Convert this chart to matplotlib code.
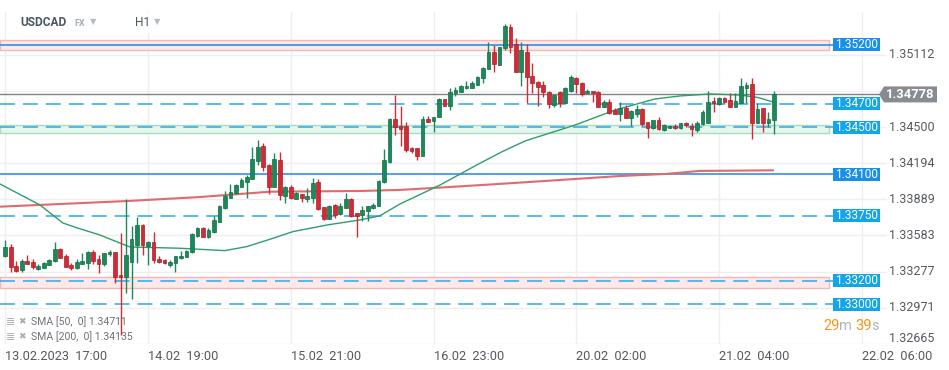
import matplotlib
matplotlib.use('Agg')
import matplotlib.pyplot as plt
import numpy as np
from matplotlib.patches import Rectangle, Polygon

plt.rcParams['font.family'] = ['Roboto', 'DejaVu Sans']

# ---------------- data ----------------
opens = [1.33412, 1.33483, 1.33325, 1.33289, 1.33367, 1.33359, 1.33302, 1.33311, 1.33336, 1.33365,
         1.33466, 1.33410, 1.33331, 1.33311, 1.33345, 1.33353, 1.33444, 1.33384, 1.33339, 1.33424,
         1.33444, 1.33249, 1.33234, 1.33359, 1.33503, 1.33672, 1.33497, 1.33526, 1.33384, 1.33376,
         1.33333, 1.33348, 1.33390, 1.33399, 1.33441, 1.33582, 1.33649, 1.33573, 1.33616, 1.33700,
         1.33814, 1.33904, 1.33941, 1.33997, 1.34039, 1.34062, 1.34214, 1.34344, 1.34180, 1.33997,
         1.34223, 1.33920, 1.33997, 1.33893, 1.33932, 1.33893, 1.33904, 1.34034, 1.33822, 1.33723,
         1.33842, 1.33763, 1.33819, 1.33893, 1.33771, 1.33757, 1.33793, 1.33814, 1.33833, 1.34034,
         1.34208, 1.34570, 1.34511, 1.34511, 1.34327, 1.34322, 1.34259, 1.34568, 1.34556, 1.34590,
         1.34739, 1.34683, 1.34788, 1.34801, 1.34830, 1.34835, 1.34858, 1.34915, 1.34991, 1.35135,
         1.35027, 1.35169, 1.35352, 1.35203, 1.34971, 1.35138, 1.34934, 1.34881, 1.34858, 1.34801,
         1.34689, 1.34801, 1.34703, 1.34807, 1.34915, 1.34872, 1.34788, 1.34807, 1.34801, 1.34674,
         1.34717, 1.34646, 1.34610, 1.34661, 1.34581, 1.34610, 1.34655, 1.34542, 1.34491, 1.34562,
         1.34477, 1.34496, 1.34513, 1.34491, 1.34534, 1.34511, 1.34477, 1.34525, 1.34534, 1.34725,
         1.34697, 1.34745, 1.34731, 1.34674, 1.34708, 1.34835, 1.34867, 1.34534, 1.34661, 1.34534,
         1.34562]
highs = [1.33545, 1.33511, 1.33367, 1.33382, 1.33416, 1.33387, 1.33342, 1.33361, 1.33384, 1.33531,
         1.33477, 1.33424, 1.33348, 1.33382, 1.33433, 1.33455, 1.33461, 1.33416, 1.33438, 1.33461,
         1.33444, 1.33607, 1.33890, 1.33664, 1.33743, 1.33681, 1.33537, 1.33616, 1.33410, 1.33384,
         1.33376, 1.33410, 1.33455, 1.33461, 1.33600, 1.33653, 1.33658, 1.33649, 1.33749, 1.33840,
         1.33963, 1.34017, 1.34015, 1.34068, 1.34096, 1.34336, 1.34392, 1.34369, 1.34189, 1.34285,
         1.34293, 1.34003, 1.34011, 1.33954, 1.33935, 1.33983, 1.34068, 1.34062, 1.33825, 1.33840,
         1.33846, 1.33856, 1.33941, 1.33897, 1.33774, 1.33833, 1.33837, 1.33861, 1.34050, 1.34316,
         1.34575, 1.34773, 1.34683, 1.34542, 1.34329, 1.34325, 1.34598, 1.34598, 1.34587, 1.34745,
         1.34742, 1.34830, 1.34844, 1.34854, 1.34892, 1.34892, 1.34937, 1.35013, 1.35225, 1.35197,
         1.35180, 1.35375, 1.35375, 1.35254, 1.35225, 1.35205, 1.35042, 1.34895, 1.34895, 1.34810,
         1.34777, 1.34807, 1.34844, 1.34943, 1.34923, 1.34886, 1.34822, 1.34810, 1.34805, 1.34731,
         1.34737, 1.34661, 1.34712, 1.34689, 1.34646, 1.34689, 1.34659, 1.34547, 1.34565, 1.34590,
         1.34528, 1.34516, 1.34528, 1.34537, 1.34547, 1.34534, 1.34553, 1.34646, 1.34807, 1.34759,
         1.34759, 1.34754, 1.34793, 1.34788, 1.34915, 1.34886, 1.34915, 1.34703, 1.34663, 1.34632,
         1.34807]
lows = [1.33404, 1.33272, 1.33277, 1.33272, 1.33342, 1.33297, 1.33291, 1.33306, 1.33333, 1.33359,
        1.33390, 1.33317, 1.33291, 1.33302, 1.33339, 1.33297, 1.33342, 1.33268, 1.33325, 1.33412,
        1.33178, 1.32741, 1.33094, 1.33046, 1.33350, 1.33418, 1.33333, 1.33353, 1.33348, 1.33342,
        1.33319, 1.33277, 1.33384, 1.33397, 1.33436, 1.33568, 1.33568, 1.33560, 1.33607, 1.33695,
        1.33808, 1.33898, 1.33935, 1.33992, 1.33898, 1.34058, 1.34180, 1.34132, 1.33932, 1.33995,
        1.33884, 1.33861, 1.33893, 1.33888, 1.33865, 1.33865, 1.33856, 1.33799, 1.33715, 1.33720,
        1.33729, 1.33757, 1.33814, 1.33743, 1.33568, 1.33709, 1.33709, 1.33805, 1.33830, 1.34028,
        1.34200, 1.34435, 1.34344, 1.34288, 1.34280, 1.34223, 1.34257, 1.34545, 1.34457, 1.34585,
        1.34680, 1.34646, 1.34767, 1.34799, 1.34826, 1.34833, 1.34854, 1.34872, 1.34989, 1.34971,
        1.35025, 1.35154, 1.35127, 1.34964, 1.34852, 1.34703, 1.34788, 1.34683, 1.34754, 1.34666,
        1.34669, 1.34669, 1.34697, 1.34801, 1.34788, 1.34765, 1.34786, 1.34717, 1.34672, 1.34672,
        1.34612, 1.34610, 1.34556, 1.34576, 1.34511, 1.34590, 1.34513, 1.34407, 1.34488, 1.34477,
        1.34471, 1.34494, 1.34485, 1.34488, 1.34505, 1.34429, 1.34463, 1.34523, 1.34532, 1.34632,
        1.34689, 1.34703, 1.34672, 1.34672, 1.34706, 1.34703, 1.34401, 1.34532, 1.34463, 1.34505,
        1.34441]
closes = [1.33483, 1.33314, 1.33285, 1.33367, 1.33345, 1.33314, 1.33322, 1.33350, 1.33373, 1.33466,
          1.33395, 1.33319, 1.33308, 1.33359, 1.33367, 1.33444, 1.33370, 1.33342, 1.33433, 1.33444,
          1.33234, 1.33234, 1.33416, 1.33554, 1.33672, 1.33503, 1.33526, 1.33376, 1.33356, 1.33348,
          1.33356, 1.33410, 1.33410, 1.33455, 1.33594, 1.33644, 1.33573, 1.33630, 1.33715, 1.33833,
          1.33920, 1.33949, 1.34011, 1.34053, 1.34081, 1.34231, 1.34330, 1.34166, 1.33997, 1.34231,
          1.33926, 1.33997, 1.33898, 1.33941, 1.33904, 1.33918, 1.34025, 1.33805, 1.33723, 1.33833,
          1.33757, 1.33833, 1.33893, 1.33751, 1.33751, 1.33799, 1.33833, 1.33842, 1.34045, 1.34223,
          1.34570, 1.34505, 1.34483, 1.34308, 1.34302, 1.34259, 1.34570, 1.34547, 1.34584, 1.34739,
          1.34683, 1.34796, 1.34816, 1.34850, 1.34850, 1.34878, 1.34923, 1.35000, 1.35135, 1.35033,
          1.35177, 1.35358, 1.35182, 1.34966, 1.35154, 1.34923, 1.34872, 1.34844, 1.34796, 1.34697,
          1.34773, 1.34703, 1.34830, 1.34923, 1.34864, 1.34779, 1.34807, 1.34788, 1.34674, 1.34717,
          1.34618, 1.34612, 1.34661, 1.34581, 1.34638, 1.34655, 1.34528, 1.34491, 1.34562, 1.34485,
          1.34519, 1.34513, 1.34491, 1.34534, 1.34519, 1.34483, 1.34539, 1.34632, 1.34717, 1.34703,
          1.34745, 1.34717, 1.34674, 1.34723, 1.34850, 1.34858, 1.34534, 1.34655, 1.34534, 1.34570,
          1.34778]

sma50_idx = [-1, 6.3, 10.5, 13.1, 17.2, 20.4, 22.7, 31.8, 40, 44, 48.2, 52.4, 58.6, 64.6, 68.2,
             71.9, 79.2, 86.1, 90.5, 94.7, 103.8, 111.1, 118.3, 122.9, 128.4, 133.8, 137.1, 140]
sma50_val = [1.34020, 1.33842, 1.33689, 1.33647, 1.33588, 1.33528, 1.33486, 1.33475, 1.33455,
             1.33489, 1.33551, 1.33616, 1.33672, 1.33715, 1.33749, 1.33850, 1.34011, 1.34186,
             1.34293, 1.34384, 1.34519, 1.34646, 1.34739, 1.34765, 1.34782, 1.34773, 1.34752, 1.34711]
sma200_idx = [-1, 6.3, 22.7, 35.5, 48.2, 64.6, 71.9, 81, 90.1, 101, 112, 120.2, 126.5, 140]
sma200_val = [1.33827, 1.33842, 1.33876, 1.33909, 1.33954, 1.33960, 1.33969, 1.33994, 1.34020,
              1.34053, 1.34087, 1.34104, 1.34130, 1.34135]

level_solid = [1.35200, 1.34100]
level_dashed = [1.34700, 1.34500, 1.33750, 1.33200, 1.33000]
level_labels = ['1.35200', '1.34100', '1.34700', '1.34500', '1.33750', '1.33200', '1.33000']
zones = [(1.35157, 1.35242, 'red'), (1.34450, 1.34520, 'green'), (1.33140, 1.33230, 'red')]
last_price = 1.34778

ytick_vals = [1.35112, 1.34806, 1.34500, 1.34194, 1.33889, 1.33583, 1.33277, 1.32971, 1.32665]
ytick_labels = ['1.35112', '', '1.34500', '1.34194', '1.33889', '1.33583', '1.33277', '1.32971', '1.32665']
xtick_idx = [0, 26, 52, 78, 104, 130, 156]
xtick_labels = ['13.02.2023  17:00', '14.02  19:00', '15.02  21:00', '16.02  23:00',
                '20.02  02:00', '21.02  04:00', '22.02  06:00']

# ---------------- figure ----------------
W, H = 949, 370
fig = plt.figure(figsize=(W / 100, H / 100), dpi=100)
ax = fig.add_axes([0, 1 - 344 / H, 887 / W, (344 - 12) / H])
px_x = 5.49          # pixels per candle
x0 = 5.3
def ix(px):
    return (px - x0) / px_x

ax.set_xlim(ix(0), ix(887))
ax.set_ylim(1.32664, 1.35476)
ppx = (1.35476 - 1.32664) / 332.0   # price per pixel

for s in ax.spines.values():
    s.set_visible(False)

ax.set_yticks(ytick_vals)
ax.set_yticklabels([''] * len(ytick_vals))
ax.tick_params(axis='y', length=0)
for v, lab in zip(ytick_vals, ytick_labels):
    yy = v if v > 1.3270 else v + 5 * ppx
    ax.text(ix(889), yy, lab, fontsize=9, color='#555a60', ha='left', va='center', clip_on=False)
ax.set_xticks(xtick_idx)
ax.set_xticklabels(xtick_labels, ha='left')
ax.tick_params(axis='x', length=0, pad=4, labelsize=9.2, labelcolor='#555a60')
ax.grid(True, color='#efefef', lw=1)
ax.set_axisbelow(True)

# zones
zone_colors = {'red': ('#fde9e9', '#f2b8b8'), 'green': ('#e6f6ee', '#a8dcc2')}
for lo, hi, c in zones:
    fc, ec = zone_colors[c]
    ax.add_patch(Rectangle((ix(0), lo), ix(829) - ix(0), hi - lo, fc=fc, ec=ec, lw=1, zorder=1))

# level lines
for lv in level_solid:
    ax.plot([ix(0), ix(833)], [lv, lv], color='#1e88e5', lw=1.1, zorder=2)
for lv in level_dashed:
    ax.plot([ix(0), ix(833)], [lv, lv], color='#29a9e6', lw=1.1,
            linestyle=(0, (9.8, 5.2)), zorder=2)
ax.plot([ix(0), ix(880)], [last_price, last_price], color='#7d8389', lw=1.0, zorder=2)

# SMA lines
ax.plot(sma200_idx, sma200_val, color='#e26a6a', lw=1.5, zorder=3, solid_capstyle='butt')
ax.plot(sma50_idx, sma50_val, color='#2f9d6c', lw=1.0, zorder=3)

# candles
idx = np.arange(len(opens))
o = np.array(opens); c = np.array(closes); h = np.array(highs); l = np.array(lows)
up = c >= o
col = np.where(up, '#1b8a5a', '#d42a35')
edge = np.where(up, '#136b45', '#a81f28')
ax.vlines(idx, l, h, colors=col, lw=1.0, zorder=4)
bottoms = np.minimum(o, c)
heights = np.maximum(np.abs(c - o), 0.00006)
ax.bar(idx, heights, bottom=bottoms, width=0.68, color=col, edgecolor=edge, lw=0.5, zorder=5)

# level tags
tag_vals = level_solid + level_dashed
tag_cols = ['#1a8fe8'] * len(level_solid) + ['#12a5e8'] * len(level_dashed)
for v, lab, cc in zip(tag_vals, level_labels, tag_cols):
    ax.add_patch(Rectangle((ix(833), v - 6.7 * ppx), ix(880) - ix(833), 13.4 * ppx,
                           fc=cc, ec='none', zorder=8, clip_on=False))
    ax.text(ix(856.5), v, lab, color='white', fontsize=8.6, ha='center', va='center',
            zorder=9, clip_on=False)

# current price tag
poly = Polygon([(ix(879), last_price), (ix(884), last_price + 8 * ppx), (ix(937), last_price + 8 * ppx),
                (ix(937), last_price - 8 * ppx), (ix(884), last_price - 8 * ppx)],
               closed=True, fc='#868c92', ec='none', zorder=10, clip_on=False)
ax.add_patch(poly)
ax.text(ix(910.5), last_price, '1.34778', color='white', fontsize=9.4, fontweight='bold',
        ha='center', va='center', zorder=11, clip_on=False)

# header
def ftxt(x, y, s, **kw):
    fig.text(x / W, 1 - y / H, s, **kw)

fig.patches.append(Rectangle((14 / W, 1 - 33 / H), 160 / W, 20 / H, transform=fig.transFigure,
                             fc='white', ec='none', zorder=1))
ftxt(20, 23, 'USDCAD', fontsize=8.6, fontweight='bold', color='#4b5661', va='center')
ftxt(74, 24, 'FX', fontsize=6.5, fontweight='bold', color='#a3adb5', va='center')
ftxt(90, 22, '\u25BC', fontsize=6, color='#b5bcc2', va='center', family='DejaVu Sans')
ftxt(135, 23, 'H1', fontsize=8.6, color='#4b5661', va='center')
ftxt(154, 22, '\u25BC', fontsize=6, color='#b5bcc2', va='center', family='DejaVu Sans')

# countdown
ftxt(823, 326, '29', fontsize=10.5, color='#f7941d', va='center')
ftxt(839, 326, 'm', fontsize=10.5, color='#b0b4b8', va='center')
ftxt(855, 326, '39', fontsize=10.5, color='#f7941d', va='center')
ftxt(871, 326, 's', fontsize=10.5, color='#b0b4b8', va='center')

# indicator legend
for yy, txt in [(322, 'SMA [50,  0] 1.34711'), (337, 'SMA [200,  0] 1.34135')]:
    ftxt(6, yy, '\u2263', fontsize=8, color='#a8adb2', va='center', family='DejaVu Sans')
    ftxt(18, yy, '\u2716', fontsize=6.5, color='#a8adb2', va='center', family='DejaVu Sans')
    ftxt(31, yy, txt, fontsize=7.6, color='#6e7378', va='center')

fig.savefig('out.png', dpi=100, facecolor='white')
